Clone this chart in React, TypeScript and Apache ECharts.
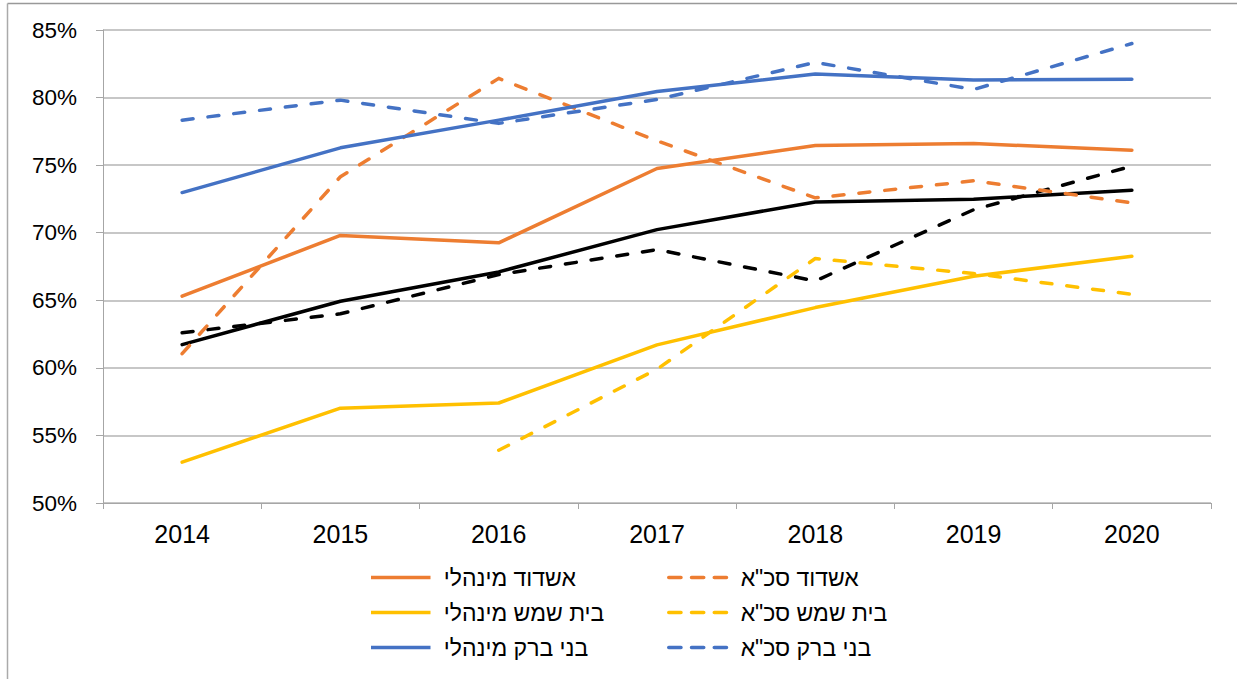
import React, { useEffect, useRef } from "react";
import * as echarts from "echarts";

const years = ["2014", "2015", "2016", "2017", "2018", "2019", "2020"];

const ashdodMgr = [65.3, 69.8, 69.25, 74.75, 76.46, 76.6, 76.11];
const ashdodSca = [61.05, 74.14, 81.42, 76.8, 72.58, 73.84, 72.21];
const beitShemeshMgr = [53.02, 57.02, 57.4, 61.7, 64.46, 66.78, 68.26];
const beitShemeshSca = [null, null, 53.9, 59.9, 68.09, 66.98, 65.44];
const bneiBrakMgr = [72.97, 76.28, 78.33, 80.45, 81.74, 81.3, 81.35];
const bneiBrakSca = [78.33, 79.81, 78.09, 79.86, 82.6, 80.6, 84.0];
const nationalMgr = [61.72, 64.93, 67.1, 70.23, 72.28, 72.48, 73.15];
const nationalSca = [62.6, 64.0, 66.9, 68.75, 66.43, 71.7, 74.93];

const yTicks = { min: 50, max: 85, interval: 5 };

const ORANGE = "#ED7D31";
const YELLOW = "#FFC000";
const BLUE = "#4472C4";
const BLACK = "#000000";

const FONT = "'Liberation Sans', Arial, sans-serif";

const SOLID_ICON = "path://M0,0H68V4H0Z";
const DASH_ICON = "path://M1,0H15A2,2 0 0 1 15,4H1A2,2 0 0 1 1,0Z M27,0H41A2,2 0 0 1 41,4H27A2,2 0 0 1 27,0Z M53,0H67A2,2 0 0 1 67,4H53A2,2 0 0 1 53,0Z";

function lineSeries(name: string, data: (number | null)[], color: string, dashed: boolean) {
  return {
    name,
    type: "line",
    data,
    symbol: "none",
    showSymbol: false,
    connectNulls: false,
    itemStyle: { color },
    lineStyle: {
      color,
      width: 3.5,
      type: dashed ? [11, 15] : "solid",
      cap: "round",
      join: "round",
    },
  };
}

export default function App() {
  const ref = useRef<HTMLDivElement>(null);
  useEffect(() => {
    if (!ref.current) return;
    const chart = echarts.init(ref.current, null, { renderer: "svg" });
    const legendText = {
      fontFamily: FONT,
      fontSize: 23,
      color: "#000",
      lineHeight: 22,
      padding: [0, 0, 0, 4],
    };
    const legendCommon = {
      orient: "vertical",
      top: 561,
      itemWidth: 68,
      itemHeight: 3.5,
      itemGap: 12,
      textStyle: legendText,
    };
    chart.setOption({
      animation: false,
      backgroundColor: "#fff",
      grid: { left: 103, top: 30, right: 26, bottom: 176, containLabel: false },
      xAxis: {
        type: "category",
        data: years,
        boundaryGap: true,
        axisLine: { show: true, lineStyle: { color: "#a6a6a6", width: 1 } },
        axisTick: { show: true, length: 6, alignWithLabel: false, lineStyle: { color: "#a6a6a6" } },
        axisLabel: { fontFamily: FONT, fontSize: 25, color: "#000", margin: 18 },
        splitLine: { show: false },
      },
      yAxis: {
        type: "value",
        min: yTicks.min,
        max: yTicks.max,
        interval: yTicks.interval,
        axisLine: { show: true, lineStyle: { color: "#a6a6a6", width: 1 } },
        axisTick: { show: true, length: 7, lineStyle: { color: "#a6a6a6" } },
        axisLabel: {
          fontFamily: FONT,
          fontSize: 22.5,
          color: "#000",
          margin: 26,
          formatter: "{value}%",
        },
        splitLine: { show: true, lineStyle: { color: "#b4b4b4", width: 1.5 } },
      },
      legend: [
        {
          ...legendCommon,
          left: 366,
          data: [
            { name: "אשדוד מינהלי", icon: SOLID_ICON },
            { name: "בית שמש מינהלי", icon: SOLID_ICON },
            { name: "בני ברק מינהלי", icon: SOLID_ICON },
          ],
        },
        {
          ...legendCommon,
          left: 662,
          data: [
            { name: 'אשדוד סכ"א', icon: DASH_ICON },
            { name: 'בית שמש סכ"א', icon: DASH_ICON },
            { name: 'בני ברק סכ"א', icon: DASH_ICON },
          ],
        },
      ],
      graphic: [
        { type: "line", shape: { x1: 7.5, y1: 3.5, x2: 1237, y2: 3.5 }, style: { stroke: "#999", lineWidth: 1.5 } },
        { type: "line", shape: { x1: 7.5, y1: 3.5, x2: 7.5, y2: 679 }, style: { stroke: "#aaa", lineWidth: 1.5 } },
      ],
      series: [
        lineSeries("ארצי מינהלי", nationalMgr, BLACK, false),
        lineSeries('ארצי סכ"א', nationalSca, BLACK, true),
        lineSeries("בית שמש מינהלי", beitShemeshMgr, YELLOW, false),
        lineSeries('בית שמש סכ"א', beitShemeshSca, YELLOW, true),
        lineSeries("אשדוד מינהלי", ashdodMgr, ORANGE, false),
        lineSeries('אשדוד סכ"א', ashdodSca, ORANGE, true),
        lineSeries("בני ברק מינהלי", bneiBrakMgr, BLUE, false),
        lineSeries('בני ברק סכ"א', bneiBrakSca, BLUE, true),
      ],
    });
    return () => chart.dispose();
  }, []);
  return (
    <div
      ref={ref}
      style={{ position: "fixed", left: 0, top: 0, width: 1237, height: 679, background: "#fff" }}
    />
  );
}
